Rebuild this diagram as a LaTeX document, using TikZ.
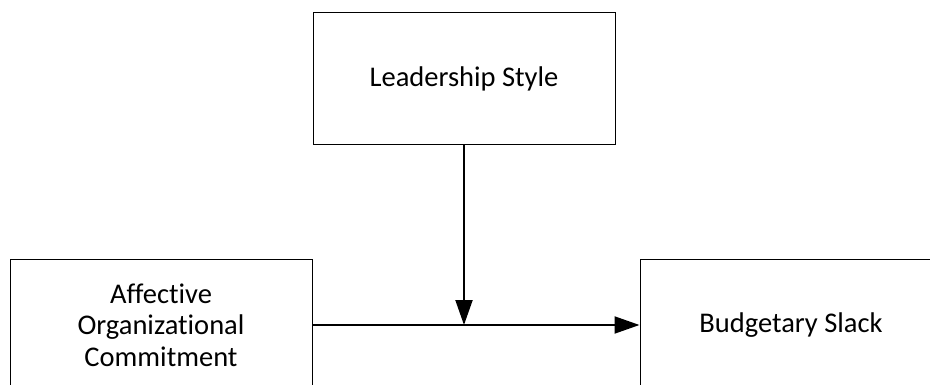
\documentclass[tikz,border=0pt]{standalone}
\usepackage{fontspec}
\setmainfont{Carlito}[Ligatures=NoCommon]
\usetikzlibrary{arrows.meta}
\tikzset{
  box/.style={draw=black, line width=1pt, minimum width=302pt, minimum height=132pt, align=center, inner sep=0pt, font=\fontsize{28.5}{31.5}\selectfont},
  conn/.style={line width=2pt, -{Triangle[length=25pt,width=17pt]}}
}
\begin{document}
\begin{tikzpicture}[x=1pt,y=1pt]
\useasboundingbox (0,0) rectangle (930,-385);
\clip (0,0) rectangle (930,-385);
\node[box] (lead) at (464,-79) {Leadership Style};
\node[box] (aoc) at (161,-325) {Affective\\Organizational\\Commitment};
\node[box] (bs) at (791,-325) {Budgetary Slack};
\coordinate (m) at (lead.south |- aoc.east);
\draw[conn] (aoc.east) -- (bs.west);
\draw[conn] (lead.south) -- (m);
\end{tikzpicture}
\end{document}
